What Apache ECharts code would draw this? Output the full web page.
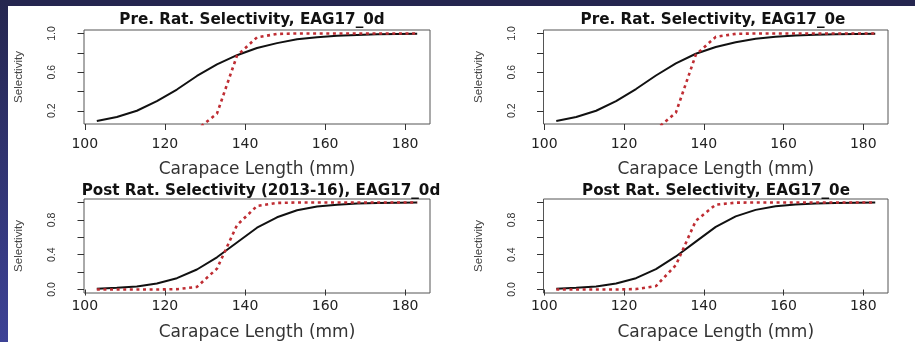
<!DOCTYPE html>
<html>
<head>
<meta charset="utf-8">
<script src="https://cdn.jsdelivr.net/npm/echarts@6/dist/echarts.min.js"></script>
<style>
html,body{margin:0;padding:0;background:#ffffff;}
#topbar{position:absolute;left:0;top:0;width:915px;height:6px;background:#25264f;}
#leftbar{position:absolute;left:0;top:0;width:8px;height:342px;background:linear-gradient(to bottom,#25264f 0%,#30336f 45%,#3d4296 100%);}
#chart{position:absolute;left:0;top:0;width:915px;height:342px;}
</style>
</head>
<body>
<div id="topbar"></div>
<div id="leftbar"></div>
<div id="chart"></div>
<script>
// ---- data ----
const lengths = [103,108,113,118,123,128,133,138,143,148,153,158,163,168,173,178,183];

const blackPre0d  = [0.095,0.135,0.20,0.30,0.42,0.56,0.68,0.775,0.85,0.90,0.94,0.962,0.976,0.985,0.991,0.995,0.997];
const redPre0d    = [0,0,0,0,0,0.005,0.17,0.77,0.96,0.995,1,1,1,1,1,1,1];

const blackPre0e  = [0.095,0.135,0.20,0.30,0.425,0.565,0.69,0.79,0.86,0.91,0.945,0.965,0.978,0.987,0.992,0.995,0.997];
const redPre0e    = [0,0,0,0,0,0.005,0.18,0.78,0.965,0.996,1,1,1,1,1,1,1];

const blackPost0d = [0.01,0.02,0.035,0.07,0.13,0.23,0.37,0.54,0.71,0.83,0.91,0.955,0.975,0.988,0.994,0.997,0.999];
const redPost0d   = [0,0,0,0,0.004,0.03,0.24,0.74,0.96,0.995,1,1,1,1,1,1,1];

const blackPost0e = [0.01,0.02,0.035,0.07,0.13,0.235,0.38,0.55,0.72,0.84,0.915,0.957,0.977,0.988,0.994,0.997,0.999];
const redPost0e   = [0,0,0,0,0.005,0.04,0.28,0.79,0.975,0.998,1,1,1,1,1,1,1];

const panelTitles = [
  'Pre. Rat. Selectivity, EAG17_0d',
  'Pre. Rat. Selectivity, EAG17_0e',
  'Post Rat. Selectivity (2013-16), EAG17_0d',
  'Post Rat. Selectivity, EAG17_0e'
];
const xTickValues = [100,120,140,160,180];
const yTickValuesPre = [0.2,0.4,0.6,0.8,1.0];
const yLabelValuesPre = [0.2,0.6,1.0];
const yTickValuesPost = [0,0.2,0.4,0.6,0.8,1.0];
const yLabelValuesPost = [0,0.4,0.8];
const xAxisName = 'Carapace Length (mm)';
const yAxisName = 'Selectivity';

// ---- layout ----
const grids = [
  {left:84,   top:30,  width:346,   height:94},
  {left:543.5,top:30,  width:344.5, height:94},
  {left:84,   top:199, width:346,   height:95},
  {left:543.5,top:199, width:344.5, height:95}
];
const titlePos = [
  {x:252, y:13}, {x:713, y:13}, {x:261, y:184}, {x:716, y:184}
];
const blackSets = [blackPre0d, blackPre0e, blackPost0d, blackPost0e];
const redSets = [redPre0d, redPre0e, redPost0d, redPost0e];

function pairs(ys){ return lengths.map((x,i)=>[x, ys[i]]); }

const chart = echarts.init(document.getElementById('chart'), null, {renderer:'canvas'});

const xAxes = [], yAxes = [], series = [], titles = [];
for (let i = 0; i < 4; i++) {
  const isPre = i < 2;
  xAxes.push({
    type:'value', gridIndex:i, min:99.8, max:186.2,
    axisLine:{show:false},
    axisTick:{show:true, length:6, customValues:xTickValues, lineStyle:{color:'#333', width:1}},
    axisLabel:{customValues:xTickValues, margin: isPre ? 13 : 6, fontSize:14, fontFamily:'DejaVu Sans', color:'#222'},
    splitLine:{show:false},
    name:xAxisName, nameLocation:'middle', nameGap: isPre ? 37 : 31,
    nameTextStyle:{fontSize:17, fontFamily:'DejaVu Sans', color:'#333'}
  });
  yAxes.push({
    type:'value', gridIndex:i,
    min: isPre ? 0.063 : -0.04, max: isPre ? 1.036 : 1.04,
    axisLine:{show:false},
    axisTick:{show:true, length:6.5, customValues: isPre ? yTickValuesPre : yTickValuesPost, lineStyle:{color:'#333', width:1}},
    axisLabel:{customValues: isPre ? yLabelValuesPre : yLabelValuesPost, rotate:90, margin:26,
      fontSize:10.5, fontFamily:'Liberation Sans', color:'#333', formatter:(v)=>Number(v).toFixed(1)},
    splitLine:{show:false},
    name:yAxisName, nameLocation:'middle', nameGap:59,
    nameTextStyle:{fontSize:11.5, fontFamily:'Liberation Sans', color:'#444'}
  });
  series.push({
    type:'line', xAxisIndex:i, yAxisIndex:i, data:pairs(blackSets[i]),
    showSymbol:false, smooth:false, clip:true, z:2,
    lineStyle:{color:'#111', width:2}
  });
  series.push({
    type:'line', xAxisIndex:i, yAxisIndex:i, data:pairs(redSets[i]),
    showSymbol:false, smooth:false, clip:true, z:3,
    lineStyle:{color:'#bf2d33', width:2.6, type:[3,3.6]}
  });
  titles.push({
    text:panelTitles[i], left:titlePos[i].x, top:titlePos[i].y, textAlign:'center', padding:0,
    textStyle:{fontSize:15.2, fontWeight:'bold', fontFamily:'DejaVu Sans', color:'#111'}
  });
}

chart.setOption({
  animation:false,
  backgroundColor:'transparent',
  title:titles,
  grid:grids.map(g => Object.assign({show:true, borderColor:'#555', borderWidth:1, backgroundColor:'transparent'}, g)),
  xAxis:xAxes,
  yAxis:yAxes,
  series:series
});
</script>
</body>
</html>
